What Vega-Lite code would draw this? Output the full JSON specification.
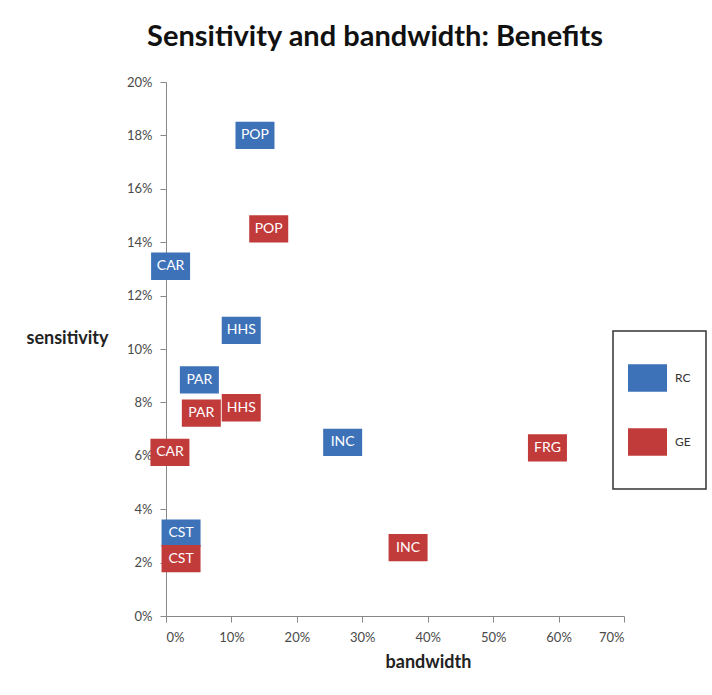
{
  "$schema": "https://vega.github.io/schema/vega-lite/v6.json",
  "autosize": {"type": "none"},
  "padding": {"left": 166, "top": 82, "right": 88, "bottom": 79},
  "width": 458,
  "height": 534,
  "background": "white",
  "title": {
    "text": "Sensitivity and bandwidth: Benefits",
    "font": "Lato",
    "fontSize": 29,
    "fontWeight": "bold",
    "color": "#111111",
    "anchor": "middle",
    "dx": -20,
    "offset": 24
  },
  "data": {
    "values": [
      {"group": "RC", "label": "POP", "bandwidth": 0.136, "sensitivity": 0.18},
      {"group": "RC", "label": "CAR", "bandwidth": 0.007, "sensitivity": 0.131},
      {"group": "RC", "label": "HHS", "bandwidth": 0.115, "sensitivity": 0.107},
      {"group": "RC", "label": "PAR", "bandwidth": 0.051, "sensitivity": 0.0884},
      {"group": "RC", "label": "INC", "bandwidth": 0.27, "sensitivity": 0.065},
      {"group": "RC", "label": "CST", "bandwidth": 0.023, "sensitivity": 0.031},
      {"group": "GE", "label": "POP", "bandwidth": 0.157, "sensitivity": 0.145},
      {"group": "GE", "label": "HHS", "bandwidth": 0.115, "sensitivity": 0.078},
      {"group": "GE", "label": "PAR", "bandwidth": 0.054, "sensitivity": 0.076},
      {"group": "GE", "label": "CAR", "bandwidth": 0.006, "sensitivity": 0.0613},
      {"group": "GE", "label": "FRG", "bandwidth": 0.583, "sensitivity": 0.063},
      {"group": "GE", "label": "INC", "bandwidth": 0.37, "sensitivity": 0.0256},
      {"group": "GE", "label": "CST", "bandwidth": 0.023, "sensitivity": 0.0215}
    ]
  },
  "encoding": {
    "x": {
      "field": "bandwidth",
      "type": "quantitative",
      "scale": {"domain": [0, 0.7], "nice": false, "zero": true},
      "axis": {
        "title": "bandwidth",
        "format": ".0%",
        "values": [0, 0.1, 0.2, 0.3, 0.4, 0.5, 0.6, 0.7],
        "grid": false,
        "labelPadding": 9,
        "titleX": 262,
        "titleY": 46,
        "titleBaseline": "middle",
        "titleAlign": "center"
      }
    },
    "y": {
      "field": "sensitivity",
      "type": "quantitative",
      "scale": {"domain": [0, 0.2], "nice": false},
      "axis": {
        "title": "sensitivity",
        "format": ".0%",
        "values": [0, 0.02, 0.04, 0.06, 0.08, 0.1, 0.12, 0.14, 0.16, 0.18, 0.2],
        "grid": false,
        "labelPadding": 8,
        "titleAngle": 0,
        "titleX": -99,
        "titleY": 256,
        "titleAlign": "center",
        "titleBaseline": "middle"
      }
    }
  },
  "layer": [
    {
      "mark": {
        "type": "point",
        "filled": true,
        "opacity": 1,
        "shape": "M-1,-0.7H1V0.7H-1Z",
        "size": 1521,
        "strokeWidth": 0
      },
      "encoding": {
        "color": {
          "field": "group",
          "type": "nominal",
          "scale": {"domain": ["RC", "GE"], "range": ["#3d72b8", "#c23b3b"]},
          "legend": {
            "title": null,
            "orient": "none",
            "legendX": 447,
            "legendY": 249,
            "symbolType": "M0,-1.64M-1,-0.7H1V0.7H-1ZM0,1.64",
            "symbolSize": 1521,
            "symbolStrokeWidth": 0,
            "clipHeight": 64,
            "rowPadding": -1,
            "padding": 15,
            "labelOffset": 8,
            "labelFont": "Lato",
            "labelFontSize": 12,
            "labelColor": "#333333",
            "strokeColor": "#333333"
          }
        }
      }
    },
    {
      "mark": {
        "type": "text",
        "color": "white",
        "font": "Lato",
        "fontSize": 14,
        "align": "center",
        "baseline": "middle"
      },
      "encoding": {
        "text": {"field": "label", "type": "nominal"}
      }
    }
  ],
  "config": {
    "view": {"stroke": null},
    "axis": {
      "domainColor": "#888888",
      "tickColor": "#888888",
      "tickSize": 6,
      "labelFont": "Lato",
      "labelFontSize": 13,
      "labelColor": "#4a4a4a",
      "titleFont": "Lato",
      "titleFontSize": 18,
      "titleFontWeight": "bold",
      "titleColor": "#222222"
    },
    "legend": {"strokeWidth": 1.5}
  }
}
